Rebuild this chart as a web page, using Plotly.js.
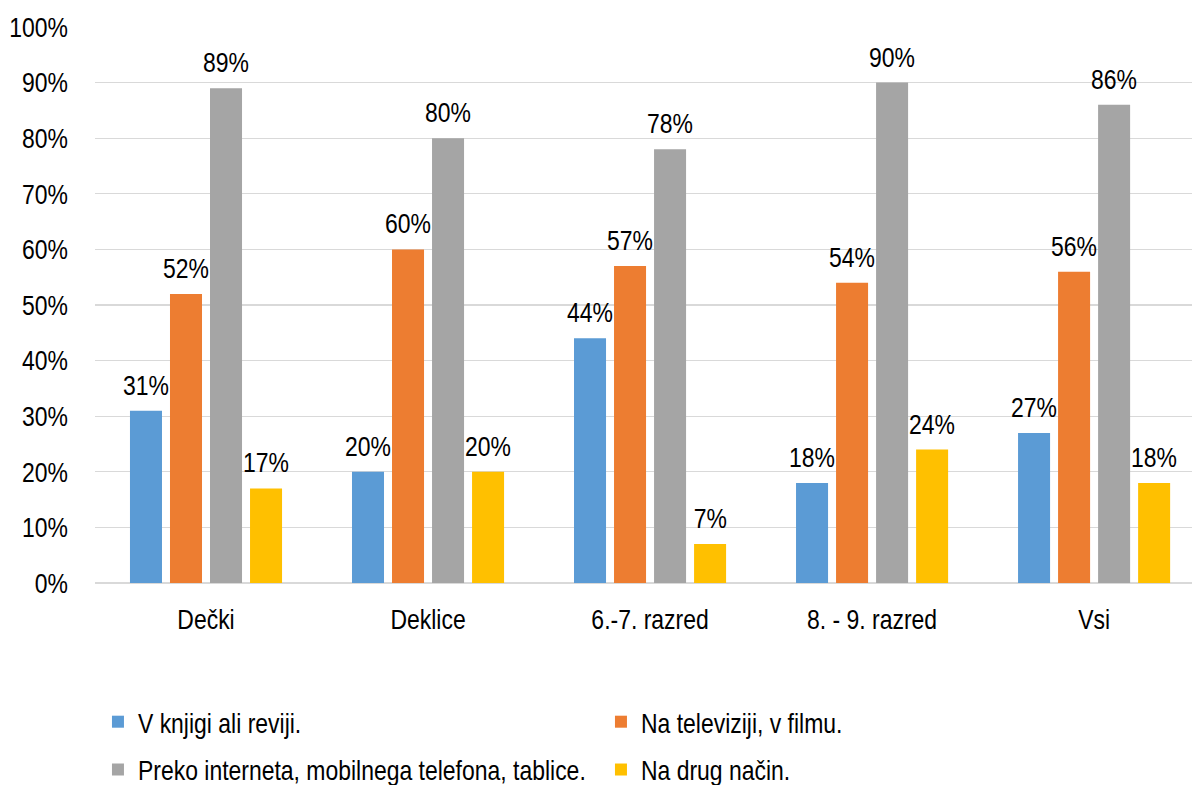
<!DOCTYPE html>
<html>
<head>
<meta charset="utf-8">
<script src="https://cdn.plot.ly/plotly-3.0.1.min.js"></script>
<style>html,body{margin:0;padding:0;background:#fff;}#chart{width:1192px;height:785px;}</style>
</head>
<body>
<div id="chart"></div>
<script>
const categories = ["Dečki", "Deklice", "6.-7. razred", "8. - 9. razred", "Vsi"];
const seriesNames = ["V knjigi ali reviji.", "Na televiziji, v filmu.", "Preko interneta, mobilnega telefona, tablice.", "Na drug način."];
const knjiga = [0.31, 0.20, 0.44, 0.18, 0.27];
const televizija = [0.52, 0.60, 0.57, 0.54, 0.56];
const internet = [0.89, 0.80, 0.78, 0.90, 0.86];
const drugo = [0.17, 0.20, 0.07, 0.24, 0.18];
const yTicks = [0, 0.1, 0.2, 0.3, 0.4, 0.5, 0.6, 0.7, 0.8, 0.9, 1.0];

const colors = ["#5B9BD5", "#ED7D31", "#A5A5A5", "#FFC000"];
const allSeries = [knjiga, televizija, internet, drugo];
const FONT = "Liberation Sans, Arial, sans-serif";
const FS = 28;
const legendFor = ["legend", "legend", "legend2", "legend2"];

const traces = allSeries.map((vals, i) => ({
  type: "bar",
  name: seriesNames[i],
  x: categories,
  y: vals,
  marker: {color: colors[i]},
  legend: legendFor[i],
  hoverinfo: "skip"
}));

const annotations = [];
allSeries.forEach((vals, i) => {
  vals.forEach((v, k) => {
    annotations.push({
      xref: "x", yref: "y",
      x: categories[k], y: v,
      xshift: (i - 1.5) * 40,
      yshift: 8,
      yanchor: "bottom",
      xanchor: "center",
      showarrow: false,
      text: Math.round(v * 100) + "%",
      font: {family: FONT, size: FS, color: "#000"}
    });
  });
});

const legendBase = {
  orientation: "h",
  x: 0.0027, xanchor: "left",
  yanchor: "middle",
  entrywidth: 458, entrywidthmode: "pixels",
  font: {family: FONT, size: FS, color: "#000"},
  bgcolor: "rgba(0,0,0,0)"
};

const layout = {
  width: 1192, height: 785,
  margin: {l: 95, r: 0, t: 27, b: 202, autoexpand: false},
  paper_bgcolor: "#fff", plot_bgcolor: "#fff",
  barmode: "group",
  bargap: 0.279,
  bargroupgap: 0.2,
  font: {family: FONT, size: FS, color: "#000"},
  xaxis: {
    type: "category",
    range: [-0.5, 4.441],
    showgrid: false,
    zeroline: false,
    showline: false,
    ticks: "",
    ticklabelstandoff: 17,
    tickfont: {family: FONT, size: FS, color: "#000"},
    fixedrange: true
  },
  yaxis: {
    range: [0, 1],
    tickvals: yTicks,
    tickformat: ".0%",
    showgrid: true,
    gridcolor: "#D9D9D9",
    gridwidth: 1.3,
    zeroline: true,
    zerolinecolor: "#D9D9D9",
    zerolinewidth: 1.3,
    showline: false,
    ticks: "",
    ticklabelstandoff: 26,
    tickfont: {family: FONT, size: FS, color: "#000"},
    fixedrange: true
  },
  showlegend: true,
  legend: Object.assign({}, legendBase, {y: -0.25}),
  legend2: Object.assign({}, legendBase, {y: -0.336}),
  annotations: annotations
};

// Condense text horizontally (narrow-font look) around each text's own anchor point
function condense(gd) {
  gd.querySelectorAll("text").forEach(t => {
    const x = parseFloat(t.getAttribute("x") || 0);
    const y = parseFloat(t.getAttribute("y") || 0);
    const tr = t.getAttribute("transform") || "";
    t.setAttribute("transform", tr + " translate(" + x + "," + y + ") scale(0.82,1) translate(" + (-x) + "," + (-y) + ")");
  });
}

Plotly.newPlot("chart", traces, layout, {displayModeBar: false, staticPlot: true}).then(condense);
</script>
</body>
</html>
